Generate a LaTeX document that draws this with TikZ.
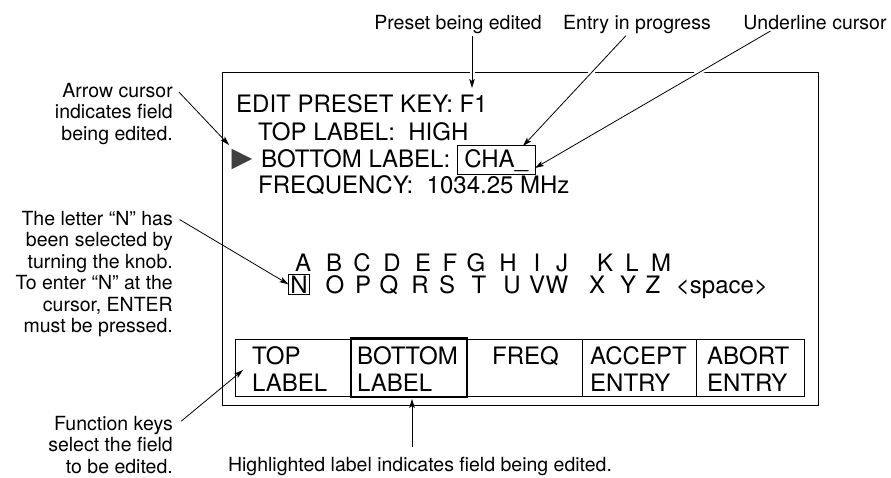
\documentclass[tikz,border=0pt]{standalone}
\usepackage{fontspec}
\setmainfont{TeX Gyre Heros}
\newfontfamily\symfont{DejaVu Sans}
\usetikzlibrary{arrows.meta,positioning}
\begin{document}
\begin{tikzpicture}[
        x=1pt, y=-1pt,
        screen/.style={font=\fontsize{24}{27}\selectfont, inner sep=0pt, anchor=base west},
        letter/.style={font=\fontsize{24}{27}\selectfont, inner sep=0pt, anchor=base},
        keytext/.style={font=\fontsize{24}{27}\selectfont, inner sep=0pt, anchor=north west, align=left},
        callout/.style={font=\fontsize{19.5}{21.5}\selectfont, inner sep=0pt, anchor=north east, align=right},
        toplabel/.style={font=\fontsize{19.5}{21.5}\selectfont, inner sep=0pt, anchor=base},
        pointer/.style={draw, line width=0.8pt, shorten <=3pt, -{Stealth[length=9pt,width=5.5pt,inset=2pt]}},
        halo/.style={preaction={draw=white, line width=5pt, -, shorten >=12pt}},
        keyline/.style={draw, line width=0.7pt},
        highlight/.style={draw, line width=2.2pt},
    ]
    \useasboundingbox (0,0) rectangle (891,477);

    % screen frame
    \draw[line width=1pt] (222,72) rectangle (818,405);

    % screen text
    \node[screen] (title) at (236,112) {EDIT PRESET KEY: F1};
    \node[screen] (toplbl) at (258,140) {TOP LABEL:\ \ HIGH};
    \node[screen] (botlbl) at (261,167) {BOTTOM LABEL:};
    \node[screen, draw, line width=0.6pt, inner xsep=7pt, inner ysep=5pt,
        text height=17pt, text depth=2pt] (cha) at (457,167) {CHA\_};
    \node[screen] (freq) at (258,193) {FREQUENCY:\ \ 1034.25 MHz};
    \node[font=\symfont\fontsize{27}{27}\selectfont, text=black!75, inner sep=0pt] (cursor) at (242,159) {▶};

    % character rows
    \foreach \ch/\xx in {A/303,B/334,C/362,D/392,E/423,F/450,G/476,H/508,I/537,J/562,K/605,L/632,M/661}
        \node[letter] (up\ch) at (\xx,271) {\ch};
    \foreach \ch/\xx in {O/335,P/363,Q/389,R/420,S/447,T/479,U/512,V/537,W/557,X/597,Y/628,Z/653}
        \node[letter] (lo\ch) at (\xx,293) {\ch};
    \node[letter, draw, line width=0.8pt, inner sep=1.5pt] (loN) at (299,293) {N};
    \node[letter] (spc) at (722,293) {{<}space{>}};

    % function key bar
    \draw[keyline] (235,339) rectangle (804,396);
    \foreach \xx in {351,467,582,696}
        \draw[keyline] (\xx,339) -- (\xx,396);
    \draw[highlight] (351,338) rectangle (467,397);
    \node[keytext] (keytop) at (252,346) {TOP\\LABEL};
    \node[keytext] (keybot) at (357,346) {BOTTOM\\LABEL};
    \node[keytext] (keyfreq) at (492,346) {FREQ};
    \node[keytext] (keyacc) at (590,346) {ACCEPT\\ENTRY};
    \node[keytext] (keyabt) at (707,346) {ABORT\\ENTRY};

    % callouts
    \node[toplabel] (presettxt) at (458,29) {Preset being edited};
    \node[toplabel] (entrytxt) at (637,29) {Entry in progress};
    \node[toplabel] (cursortxt) at (815,29) {Underline cursor};
    \node[callout] (arrowtxt) at (173,83) {Arrow cursor\\indicates field\\being edited.};
    \node[callout] (lettertxt) at (173,211) {The letter “N” has\\been selected by\\turning the knob.\\To enter “N” at the\\cursor, ENTER\\must be pressed.};
    \node[callout] (fkeytxt) at (173,416) {Function keys\\select the field\\to be edited.};
    \node[toplabel] (hltxt) at (420,471) {Highlighted label indicates field being edited.};

    \coordinate (f1tip) at (472,88);
    \coordinate (entrytip) at (523,146);
    \coordinate (ulinetip) at (535,168);
    \coordinate (curtip) at (229,145);
    \coordinate (fktip) at (243,370);
    \coordinate (hltip) at (412,399);

    \draw[pointer, halo] (presettxt.south -| f1tip) -- (f1tip);
    \draw[pointer, halo] ([xshift=-9pt]entrytxt.south) -- (entrytip);
    \draw[pointer, halo] ([xshift=-42pt]cursortxt.south) -- (ulinetip);
    \draw[pointer] ([shift={(4,7)}]arrowtxt.north east) -- (curtip);
    \draw[pointer] ([shift={(4,7)}]lettertxt.north east) -- (loN.west);
    \draw[pointer] ([shift={(6,7)}]fkeytxt.north east) -- (fktip);
    \draw[pointer, shorten <=10pt] (hltxt.north -| hltip) -- (hltip);

\end{tikzpicture}
\end{document}
